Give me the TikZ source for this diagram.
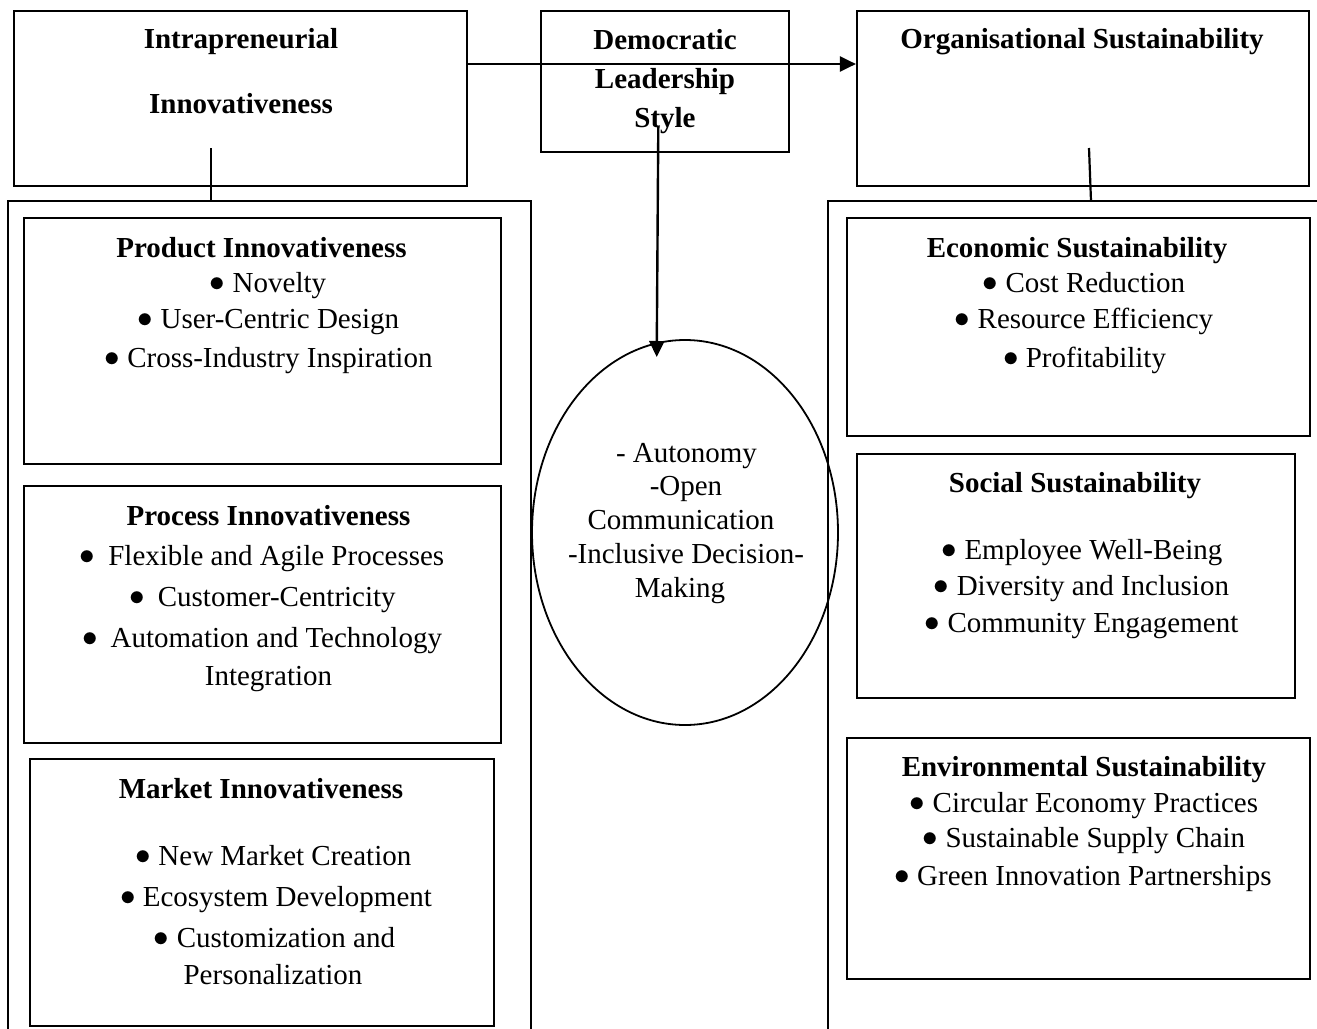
\documentclass[tikz,border=0pt]{standalone}
\usepackage{fontspec}
\setmainfont{Liberation Serif}
\usetikzlibrary{arrows.meta,shapes.geometric}
\newcommand{\fsz}{\fontsize{29}{34}\selectfont}
\newcommand{\bul}{\smash{\raisebox{0.8pt}{\scalebox{1.25}{$\bullet$}}}}
\begin{document}
\begin{tikzpicture}[x=1pt,y=-1pt,
  frame/.style={draw, rectangle, line width=2.2pt, inner sep=0pt},
  panel/.style={draw, line width=2.2pt},
  txt/.style={anchor=base, inner sep=0pt, font=\fsz},
  ttl/.style={txt, font=\fsz\bfseries},
  link/.style={draw, line width=2.2pt},
  arr/.style={draw, line width=2.4pt, -{Triangle[length=16pt,width=15pt]}}]
\useasboundingbox (0,0) rectangle (1317,1028);
\clip (0,0) rectangle (1317,1028);

% open side panels
\draw[panel] (8,1040) -- (8,201) -- (531,201) -- (531,1040);
\draw[panel] (828,1040) -- (828,201) -- (1330,201);

% top row
\node[frame, minimum width=453pt, minimum height=175pt] (intra) at (240.5,98.5) {};
\node[frame, minimum width=248pt, minimum height=141pt] (demo) at (665,81.5) {};
\node[frame, minimum width=452pt, minimum height=175pt] (org) at (1083,98.5) {};

\node[ttl] (intra1) at (241,48) {Intrapreneurial};
\node[ttl] (intra2) at (241,113) {Innovativeness};
\node[ttl] (demo1) at (665,49) {Democratic};
\node[ttl] (demo2) at (665,88) {Leadership};
\node[ttl] (demo3) at (665,127) {Style};
\node[ttl] (org1) at (1082,48) {Organisational Sustainability};

% left column boxes
\node[frame, minimum width=477pt, minimum height=246pt] (prod) at (262.5,341) {};
\node[frame, minimum width=477pt, minimum height=257pt] (proc) at (262.5,614.5) {};
\node[frame, minimum width=464pt, minimum height=267pt] (mkt) at (262,892.5) {};

\node[ttl] (prodT) at (261.5,257) {Product Innovativeness};
\node[txt] (prodA) at (268,292) {\bul\ Novelty};
\node[txt] (prodB) at (268.5,328) {\bul\ User-Centric Design};
\node[txt] (prodC) at (268.5,367) {\bul\ Cross-Industry Inspiration};

\node[ttl] (procT) at (268.5,525) {Process Innovativeness};
\node[txt] (procA) at (262,565) {\bul\hspace{13pt}Flexible and Agile Processes};
\node[txt] (procB) at (262.5,606) {\bul\hspace{13pt}Customer-Centricity};
\node[txt] (procC) at (262,647) {\bul\hspace{13pt}Automation and Technology};
\node[txt] (procD) at (268.5,685) {Integration};

\node[ttl] (mktT) at (261,798) {Market Innovativeness};
\node[txt] (mktA) at (273.5,865) {\bul\ New Market Creation};
\node[txt] (mktB) at (276,906) {\bul\ Ecosystem Development};
\node[txt] (mktC) at (274.5,947) {\bul\ Customization and};
\node[txt] (mktD) at (273,984) {Personalization};

% central ellipse
\node[draw, ellipse, line width=1.8pt, minimum width=306pt, minimum height=385pt, inner sep=0pt] (core) at (685,532.5) {};
\node[txt] (coreA) at (686.5,462) {- Autonomy};
\node[txt] (coreB) at (686,495) {-Open};
\node[txt] (coreC) at (681,529) {Communication};
\node[txt] (coreD) at (686,563) {-Inclusive Decision-};
\node[txt] (coreE) at (680,597) {Making};

% right column boxes
\node[frame, minimum width=463pt, minimum height=218pt] (econ) at (1078.5,327) {};
\node[frame, minimum width=438pt, minimum height=244pt] (soc) at (1076,576) {};
\node[frame, minimum width=463pt, minimum height=241pt] (env) at (1078.5,858.5) {};

\node[ttl] (econT) at (1077,257) {Economic Sustainability};
\node[txt] (econA) at (1084,292) {\bul\ Cost Reduction};
\node[txt] (econB) at (1084,328) {\bul\ Resource Efficiency};
\node[txt] (econC) at (1084.5,367) {\bul\ Profitability};

\node[ttl] (socT) at (1075,492) {Social Sustainability};
\node[txt] (socA) at (1082,559) {\bul\ Employee Well-Being};
\node[txt] (socB) at (1081.5,595) {\bul\ Diversity and Inclusion};
\node[txt] (socC) at (1081.5,632) {\bul\ Community Engagement};

\node[ttl] (envT) at (1084,776) {Environmental Sustainability};
\node[txt] (envA) at (1084,812) {\bul\ Circular Economy Practices};
\node[txt] (envB) at (1084,847) {\bul\ Sustainable Supply Chain};
\node[txt] (envC) at (1083,885) {\bul\ Green Innovation Partnerships};

% connectors
\coordinate (hA) at (intra.east |- 0,64);
\coordinate (hB) at (org.west |- 0,64);
\draw[arr] (hA) -- (hB);

\coordinate (vA) at (658.3,127);
\coordinate (vB) at (656.7,357);
\draw[arr] (vA) -- (vB);

\coordinate (lA) at (211,148);
\coordinate (lB) at (211,201);
\draw[link] (lA) -- (lB);

\coordinate (rA) at (1089,148);
\coordinate (rB) at (1091,201);
\draw[link] (rA) -- (rB);
\end{tikzpicture}
\end{document}
